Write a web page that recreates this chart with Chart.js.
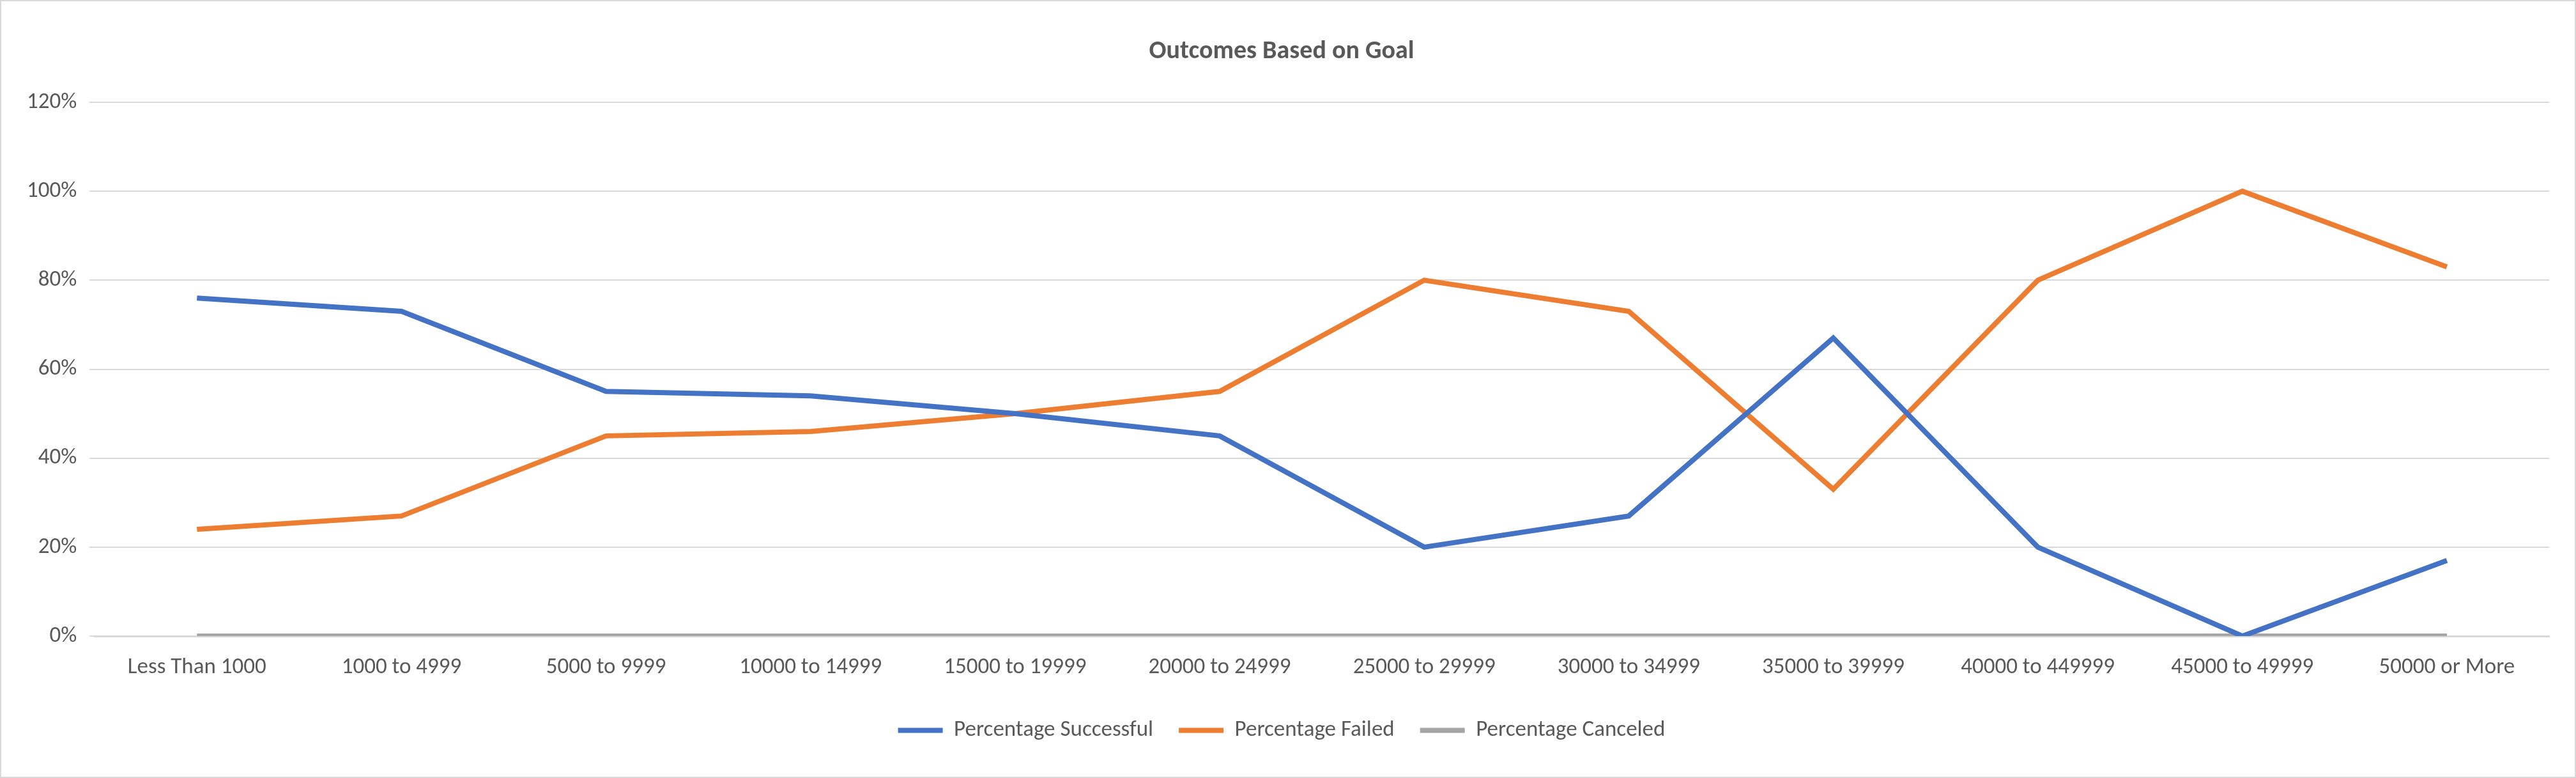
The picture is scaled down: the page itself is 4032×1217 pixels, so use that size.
<!DOCTYPE html>
<html><head><meta charset="utf-8">
<script src="https://cdn.jsdelivr.net/npm/chart.js@4/dist/chart.umd.min.js"></script>
<style>html,body{margin:0;padding:0;background:#fff}#wrap{width:4032px;height:1217px;box-sizing:border-box;border:2px solid #d9d9d9}</style>
</head><body><div id="wrap"><canvas id="c" width="4028" height="1213"></canvas></div>
<script>
const categories=["Less Than 1000","1000 to 4999","5000 to 9999","10000 to 14999","15000 to 19999","20000 to 24999","25000 to 29999","30000 to 34999","35000 to 39999","40000 to 449999","45000 to 49999","50000 or More"];
const successful=[0.76,0.73,0.55,0.54,0.50,0.45,0.20,0.27,0.67,0.20,0.00,0.17];
const failed=[0.24,0.27,0.45,0.46,0.50,0.55,0.80,0.73,0.33,0.80,1.00,0.83];
const canceled=[0,0,0,0,0,0,0,0,0,0,0,0];
const font="Calibri, Carlito, 'Liberation Sans', sans-serif";
const ds=(l,d,c)=>({label:l,data:d,borderColor:c,backgroundColor:c,borderWidth:8,pointRadius:0,tension:0});
new Chart(document.getElementById('c'),{type:'line',
data:{labels:categories,datasets:[ds('Percentage Successful',successful,'#4472C4'),ds('Percentage Failed',failed,'#ED7D31'),ds('Percentage Canceled',canceled,'#A5A5A5')]},
options:{responsive:false,animation:false,layout:{padding:{left:20,right:40,top:10,bottom:45}},
plugins:{title:{display:true,text:'Outcomes Based on Goal',color:'#595959',font:{family:font,size:40,weight:'bold'},padding:{top:45,bottom:55}},
legend:{position:'bottom',labels:{color:'#595959',font:{family:font,size:35},boxWidth:70,boxHeight:0,padding:40}}},
scales:{x:{offset:true,grid:{display:false},border:{color:'#d9d9d9',width:3},ticks:{color:'#595959',font:{family:font,size:35},maxRotation:0,padding:20}},
y:{min:0,max:1.2,ticks:{stepSize:0.2,color:'#595959',font:{family:font,size:35},padding:20,callback:v=>Math.round(v*100)+'%'},grid:{color:'#d9d9d9',lineWidth:2},border:{display:false}}}}});
</script></body></html>
